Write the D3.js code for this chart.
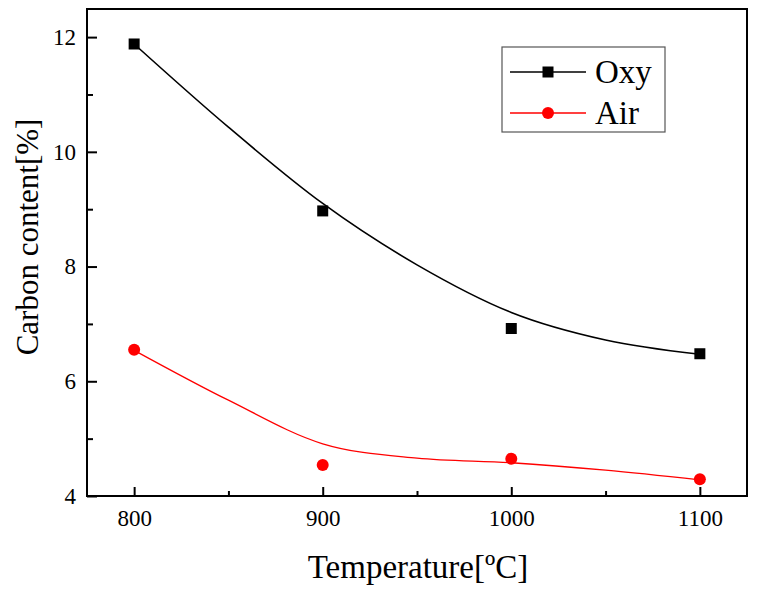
<!DOCTYPE html>
<html>
<head>
<meta charset="utf-8">
<script src="https://cdn.jsdelivr.net/npm/d3@7"></script>
<style>
  html, body { margin: 0; padding: 0; background: #fff; }
</style>
</head>
<body>
<svg id="chart" width="762" height="592"></svg>
<script>
// ---- data ----
const temperatures = [800, 900, 1000, 1100];
const oxyValues = [11.88, 8.97, 6.92, 6.48];
const airValues = [6.55, 4.54, 4.65, 4.29];
// fitted curves
const fitTemps = [800, 850, 900, 950, 1000, 1050, 1100];
const oxyFit = [11.88, 10.43, 9.1, 8.03, 7.2, 6.72, 6.47];
const airFit = [6.54, 5.67, 4.91, 4.66, 4.58, 4.45, 4.28];
const xTickValues = [800, 900, 1000, 1100];
const xMinorTicks = [850, 950, 1050];
const yTickValues = [4, 6, 8, 10, 12];
const yMinorTicks = [5, 7, 9, 11];
const seriesNames = ["Oxy", "Air"];
const seriesColors = ["#000000", "#ff0000"];

const FONT = '"Liberation Serif"';

// ---- layout ----
const svg = d3.select("#chart");
const L = 87, R = 747, T = 9, B = 496;
const x = d3.scaleLinear().domain([775, 1125]).range([L, R]);
const y = d3.scaleLinear().domain([4, 12.49]).range([B, T]);

// axes
const xAxis = d3.axisBottom(x).tickValues(xTickValues).tickSize(-9).tickPadding(20).tickFormat(d3.format("d"));
const gx = svg.append("g").attr("transform", `translate(0,${B})`).call(xAxis);
gx.select(".domain").remove();
gx.selectAll(".tick line").attr("stroke", "#000").attr("stroke-width", 2);
gx.selectAll(".tick text").attr("font-size", 23).attr("fill", "#000").attr("dy", "0.45em").style("font-family", FONT);
const gxm = svg.append("g").attr("transform", `translate(0,${B})`)
  .call(d3.axisBottom(x).tickValues(xMinorTicks).tickSize(-5).tickFormat(""));
gxm.select(".domain").remove();
gxm.selectAll(".tick line").attr("stroke", "#000").attr("stroke-width", 2);

const yAxis = d3.axisLeft(y).tickValues(yTickValues).tickSize(-10).tickPadding(11).tickFormat(d3.format("d"));
const gy = svg.append("g").attr("transform", `translate(${L},0)`).call(yAxis);
gy.select(".domain").remove();
gy.selectAll(".tick line").attr("stroke", "#000").attr("stroke-width", 2);
gy.selectAll(".tick text").attr("font-size", 23).attr("fill", "#000").style("font-family", FONT);
const gym = svg.append("g").attr("transform", `translate(${L},0)`)
  .call(d3.axisLeft(y).tickValues(yMinorTicks).tickSize(-6).tickFormat(""));
gym.select(".domain").remove();
gym.selectAll(".tick line").attr("stroke", "#000").attr("stroke-width", 2);

// frame
svg.append("rect").attr("x", L).attr("y", T).attr("width", R - L).attr("height", B - T)
  .attr("fill", "none").attr("stroke", "#000").attr("stroke-width", 2);

// fit curves
const line = d3.line().x(d => x(d[0])).y(d => y(d[1])).curve(d3.curveMonotoneX);
svg.append("path").datum(fitTemps.map((t, i) => [t, oxyFit[i]]))
  .attr("d", line).attr("fill", "none").attr("stroke", seriesColors[0]).attr("stroke-width", 1.6);
svg.append("path").datum(fitTemps.map((t, i) => [t, airFit[i]]))
  .attr("d", line).attr("fill", "none").attr("stroke", seriesColors[1]).attr("stroke-width", 1.3);

// markers
const sq = 11;
svg.append("g").selectAll("rect").data(temperatures.map((t, i) => [t, oxyValues[i]])).join("rect")
  .attr("x", d => x(d[0]) - sq / 2).attr("y", d => y(d[1]) - sq / 2)
  .attr("width", sq).attr("height", sq).attr("fill", seriesColors[0]);
svg.append("g").selectAll("circle").data(temperatures.map((t, i) => [t, airValues[i]])).join("circle")
  .attr("cx", d => x(d[0])).attr("cy", d => y(d[1])).attr("r", 6).attr("fill", seriesColors[1]);

// axis titles
svg.append("text").attr("x", 418).attr("y", 578).attr("text-anchor", "middle")
  .attr("font-size", 33).attr("fill", "#000").style("font-family", FONT).text("Temperature[ºC]");
svg.append("text").attr("transform", "translate(38,237) rotate(-90)").attr("text-anchor", "middle")
  .attr("font-size", 31).attr("fill", "#000").style("font-family", FONT).text("Carbon content[%]");

// legend
const lg = svg.append("g");
lg.append("rect").attr("x", 502).attr("y", 47).attr("width", 163).attr("height", 85)
  .attr("fill", "#fff").attr("stroke", "#555").attr("stroke-width", 1.2);
const rows = [72, 113];
seriesNames.forEach((name, i) => {
  const ry = rows[i];
  lg.append("line").attr("x1", 510).attr("x2", 586).attr("y1", ry).attr("y2", ry)
    .attr("stroke", seriesColors[i]).attr("stroke-width", i === 0 ? 1.6 : 1.3);
  if (i === 0) {
    lg.append("rect").attr("x", 548 - sq / 2).attr("y", ry - sq / 2).attr("width", sq).attr("height", sq).attr("fill", seriesColors[i]);
  } else {
    lg.append("circle").attr("cx", 548).attr("cy", ry).attr("r", 6).attr("fill", seriesColors[i]);
  }
  lg.append("text").attr("x", 595).attr("y", ry + 11).attr("font-size", 33).attr("fill", "#000")
    .style("font-family", FONT).text(name);
});
</script>
</body>
</html>
